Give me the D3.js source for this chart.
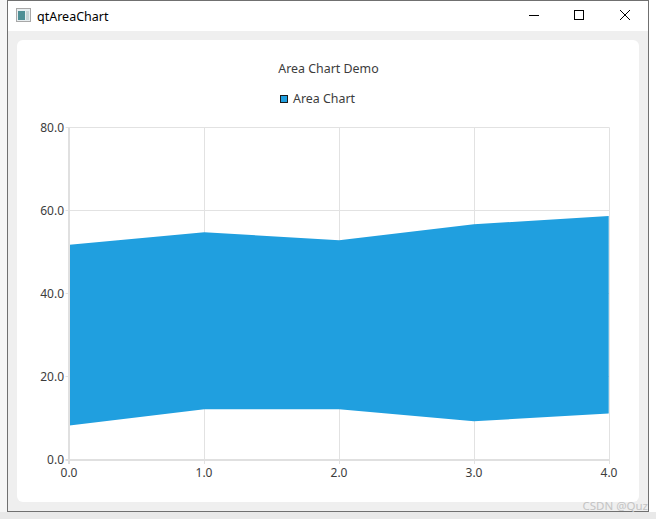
<!DOCTYPE html>
<html><head><meta charset="utf-8">
<script src="https://cdn.jsdelivr.net/npm/d3@7/dist/d3.min.js"></script>
<style>
html,body{margin:0;padding:0;background:#fff;overflow:hidden}
svg{display:block}
text{font-family:"Noto Sans","Liberation Sans",sans-serif;fill:#3c3c3c;font-size:12px}
</style></head><body>
<svg id="c" width="656" height="519"></svg>
<script>
const chartTitle = "Area Chart Demo";
const windowTitle = "qtAreaChart";
const seriesName = "Area Chart";
const xValues = [0, 1, 2, 3, 4];
const upperValues = [51.8, 54.8, 52.9, 56.7, 58.7];
const lowerValues = [8.3, 12.2, 12.2, 9.3, 11.2];
const xTicks = [0, 1, 2, 3, 4];
const yTicks = [0, 20, 40, 60, 80];

const svg = d3.select("#c");
const fillColor = "#209fdf", gridColor = "#e2e2e2", axisColor = "#e0e0e0";

// window chrome
svg.append("rect").attr("width",656).attr("height",519).attr("fill","#fff");
svg.append("rect").attr("x",0).attr("y",0).attr("width",7).attr("height",519).attr("fill","#f6f6f6");
svg.append("rect").attr("x",7.5).attr("y",0.5).attr("width",641).attr("height",511).attr("fill","#efefef").attr("stroke","#707070");
svg.append("rect").attr("x",8).attr("y",1).attr("width",640).attr("height",30).attr("fill","#fff");
svg.append("rect").attr("x",17).attr("y",40).attr("width",622).attr("height",462).attr("rx",6).attr("fill","#fff");
svg.append("rect").attr("x",0).attr("y",512).attr("width",656).attr("height",7).attr("fill","#e9e9e9");

// icon
const ic = svg.append("g");
ic.append("rect").attr("x",16.5).attr("y",8.5).attr("width",14).attr("height",13).attr("fill","#e8eef0").attr("stroke","#a8a8a8");
ic.append("rect").attr("x",18).attr("y",11).attr("width",7).attr("height",9).attr("fill","#4f8f95");
ic.append("rect").attr("x",26).attr("y",11).attr("width",3).attr("height",9).attr("fill","#c8d4d6");
svg.append("text").attr("x",37).attr("y",20.5).style("font-size","12.5px").style("fill","#000").text(windowTitle);

// window buttons
const btn = svg.append("g").attr("stroke","#000").attr("stroke-width",1).attr("fill","none");
btn.append("path").attr("d","M529 15.5H539");
btn.append("rect").attr("x",574.5).attr("y",10.5).attr("width",9).attr("height",9);
btn.append("path").attr("d","M620 10L630 20M630 10L620 20");

// scales
const x = d3.scaleLinear().domain([0,4]).range([69.5,609.5]);
const xArea = d3.scaleLinear().domain([0,4]).range([69.5,608.7]);
const y = d3.scaleLinear().domain([0,80]).range([460,127.5]);

// grid
svg.append("g").selectAll("line").data(xTicks.slice(1)).join("line")
  .attr("x1",d=>x(d)).attr("x2",d=>x(d)).attr("y1",y(80)).attr("y2",y(0)+4)
  .attr("stroke",gridColor);
svg.append("g").selectAll("line").data(yTicks.slice(1)).join("line")
  .attr("x1",x(0)-4).attr("x2",x(4)).attr("y1",d=>Math.floor(y(d))+0.5).attr("y2",d=>Math.floor(y(d))+0.5)
  .attr("stroke",gridColor);

// area
const rows = xValues.map((v,i)=>({x:v,hi:upperValues[i],lo:lowerValues[i]}));
svg.append("path").datum(rows)
  .attr("d",d3.area().x(d=>xArea(d.x)).y0(d=>y(d.lo)).y1(d=>y(d.hi)))
  .attr("fill",fillColor);

// axis lines
svg.append("line").attr("x1",x(0)-0.5).attr("x2",x(0)-0.5).attr("y1",y(80)).attr("y2",y(0)+4).attr("stroke",axisColor).attr("stroke-width",2);
svg.append("line").attr("x1",x(0)-4).attr("x2",x(4)).attr("y1",y(0)).attr("y2",y(0)).attr("stroke",axisColor).attr("stroke-width",2);

// tick labels
svg.append("g").selectAll("text").data(xTicks).join("text")
  .attr("x",d=>x(d)-0.5).attr("y",477).attr("text-anchor","middle").text(d=>d.toFixed(1));
svg.append("g").selectAll("text").data(yTicks).join("text")
  .attr("x",64).attr("y",d=>y(d)+4).attr("text-anchor","end").text(d=>d.toFixed(1));

// title and legend
svg.append("text").attr("x",328.5).attr("y",73).attr("text-anchor","middle").style("font-size","12.4px").text(chartTitle);
svg.append("rect").attr("x",280.5).attr("y",95.5).attr("width",7).attr("height",7).attr("fill",fillColor).attr("stroke","#1a1a1a");
svg.append("text").attr("x",293).attr("y",103).style("font-size","12.4px").text(seriesName);

// watermark
svg.append("text").attr("x",648).attr("y",510).attr("text-anchor","end").style("fill","#c4c4c4").style("font-size","11.5px").text("CSDN @Quz");
</script>
</body></html>
